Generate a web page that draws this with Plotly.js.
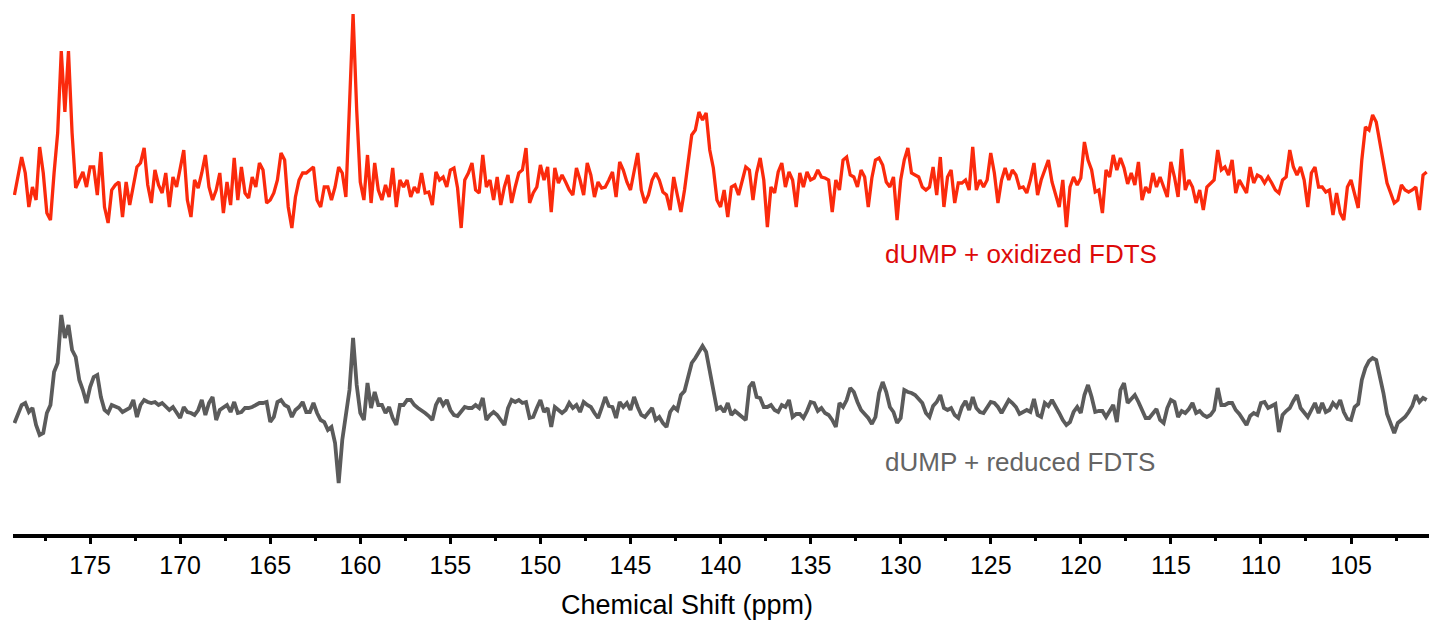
<!DOCTYPE html>
<html>
<head>
<meta charset="utf-8">
<script src="https://cdn.plot.ly/plotly-3.0.1.min.js"></script>
<style>html,body{margin:0;padding:0;background:#fff;}#chart{width:1434px;height:626px;}</style>
</head>
<body>
<div id="chart"></div>
<script>
// Chemical shift grid (ppm)
const ppm = [
179.2,179.0,178.8,178.6,178.4,178.2,178.0,177.8,177.6,177.4,177.2,177.0,176.8,176.6,176.4,176.2,176.0,175.8,175.6,175.4,175.2,175.0,
174.8,174.6,174.4,174.2,174.0,173.8,173.6,173.4,173.2,173.0,172.8,172.6,172.4,172.2,172.0,171.8,171.6,171.4,171.2,171.0,170.8,170.6,170.4,170.2,170.0,
169.8,169.6,169.4,169.2,169.0,168.8,168.6,168.4,168.2,168.0,167.8,167.6,167.4,167.2,167.0,166.8,166.6,166.4,166.2,166.0,165.8,165.6,165.4,165.2,165.0,
164.8,164.6,164.4,164.2,164.0,163.8,163.6,163.4,163.2,163.0,162.8,162.6,162.4,162.2,162.0,161.8,161.6,161.4,161.2,161.0,160.8,160.6,160.4,160.2,160.0,
159.8,159.6,159.4,159.2,159.0,158.8,158.6,158.4,158.2,158.0,157.8,157.6,157.4,157.2,157.0,156.8,156.6,156.4,156.2,156.0,155.8,155.6,155.4,155.2,155.0,
154.8,154.6,154.4,154.2,154.0,153.8,153.6,153.4,153.2,153.0,152.8,152.6,152.4,152.2,152.0,151.8,151.6,151.4,151.2,151.0,150.8,150.6,150.4,150.2,150.0,
149.8,149.6,149.4,149.2,149.0,148.8,148.6,148.4,148.2,148.0,147.8,147.6,147.4,147.2,147.0,146.8,146.6,146.4,146.2,146.0,145.8,145.6,145.4,145.2,145.0,
144.8,144.6,144.4,144.2,144.0,143.8,143.6,143.4,143.2,143.0,142.8,142.6,142.4,142.2,142.0,141.8,141.6,141.4,141.2,141.0,140.8,140.6,140.4,140.2,140.0,
139.8,139.6,139.4,139.2,139.0,138.8,138.6,138.4,138.2,138.0,137.8,137.6,137.4,137.2,137.0,136.8,136.6,136.4,136.2,136.0,135.8,135.6,135.4,135.2,135.0,
134.8,134.6,134.4,134.2,134.0,133.8,133.6,133.4,133.2,133.0,132.8,132.6,132.4,132.2,132.0,131.8,131.6,131.4,131.2,131.0,130.8,130.6,130.4,130.2,130.0,
129.8,129.6,129.4,129.2,129.0,128.8,128.6,128.4,128.2,128.0,127.8,127.6,127.4,127.2,127.0,126.8,126.6,126.4,126.2,126.0,125.8,125.6,125.4,125.2,125.0,
124.8,124.6,124.4,124.2,124.0,123.8,123.6,123.4,123.2,123.0,122.8,122.6,122.4,122.2,122.0,121.8,121.6,121.4,121.2,121.0,120.8,120.6,120.4,120.2,120.0,
119.8,119.6,119.4,119.2,119.0,118.8,118.6,118.4,118.2,118.0,117.8,117.6,117.4,117.2,117.0,116.8,116.6,116.4,116.2,116.0,115.8,115.6,115.4,115.2,115.0,
114.8,114.6,114.4,114.2,114.0,113.8,113.6,113.4,113.2,113.0,112.8,112.6,112.4,112.2,112.0,111.8,111.6,111.4,111.2,111.0,110.8,110.6,110.4,110.2,110.0,
109.8,109.6,109.4,109.2,109.0,108.8,108.6,108.4,108.2,108.0,107.8,107.6,107.4,107.2,107.0,106.8,106.6,106.4,106.2,106.0,105.8,105.6,105.4,105.2,105.0,
104.8,104.6,104.4,104.2,104.0,103.8,103.6,103.4,103.2,103.0,102.8,102.6,102.4,102.2,102.0,101.8,101.6,101.4,101.2,101.0,100.8
];

// dUMP + oxidized FDTS (intensity, arbitrary units, baseline 0)
const oxidized = [
-8,10,30,14,-20,0,-13,40,14,-26,-33,14,54,136,75,136,54,-1,7,15,0,20,
20,-8,35,-20,-36,-3,2,5,-30,5,-18,2,20,24,39,2,-16,17,2,-6,14,-20,10,0,19,
37,-13,-30,7,-1,14,32,0,-13,-3,14,-26,5,-18,29,-13,20,-6,-11,10,0,24,17,-16,-13,
-6,7,34,27,-20,-41,-10,7,14,14,17,20,-13,-20,0,0,-13,0,20,14,-10,87,173,77,5,
-13,32,-16,24,-3,-13,2,-10,19,-20,7,0,7,-10,0,-6,14,-6,-5,-18,15,7,10,0,17,
19,-1,-41,7,14,24,-3,-6,32,0,7,-13,10,-18,0,12,-16,0,14,17,39,-16,-6,0,22,
7,20,-25,19,4,12,5,-3,-8,19,7,-8,24,12,-10,5,-1,0,7,15,-10,25,17,5,-3,
17,34,-3,-16,-8,7,14,7,-5,-8,-23,10,-8,-25,-3,27,52,57,75,67,74,37,19,-13,-20,
-3,-30,0,2,-8,7,20,17,-13,14,29,7,-40,0,-6,15,24,0,15,7,-20,14,0,15,7,
9,17,10,9,7,-25,7,-3,27,30,12,10,0,17,10,-20,9,27,29,22,5,0,10,-33,7,
27,39,14,12,10,0,-3,0,20,-8,30,-20,10,17,-16,4,4,7,-3,40,-3,7,0,7,34,
14,-16,7,19,7,17,12,-1,0,-6,7,24,-8,7,17,27,5,-8,-20,7,-40,0,10,2,9,
45,27,17,-5,-3,-26,17,10,32,17,29,19,3,14,2,25,-13,0,-6,14,0,10,0,-10,25,
10,-10,38,-3,7,0,-16,-3,-23,0,4,7,37,17,20,12,27,-6,7,0,-6,20,4,12,10,
4,10,4,-3,-6,7,10,37,20,12,20,7,-20,14,20,0,0,-5,-3,-28,-6,-26,-33,0,7,
-8,-21,27,60,57,72,65,44,24,4,-6,-16,-13,2,-3,-5,-3,0,-23,12,15
];

// dUMP + reduced FDTS (intensity, arbitrary units, baseline 0)
const reduced = [
-13,-5,5,7,-2,2,-15,-25,-23,-3,5,38,47,95,72,85,60,53,30,20,7,23,
33,35,13,0,-3,5,3,2,-2,0,2,10,-7,5,10,8,7,8,5,7,3,0,3,-3,-8,
3,-2,-3,-5,0,10,-5,7,13,-10,0,2,5,-2,8,-3,-2,2,2,3,5,7,7,8,-12,
-7,8,10,5,3,-7,0,3,8,-2,-2,7,-3,-10,-12,-20,-17,-33,-73,-30,-3,20,72,25,-3,
-10,27,2,18,5,5,-3,3,-8,-15,5,5,10,10,5,2,0,-3,-6,-10,5,12,5,10,0,
-5,-6,-2,3,2,2,5,2,12,-10,-5,-2,-5,-10,-15,2,10,8,10,7,8,-8,-7,2,10,
-2,2,-17,3,0,-3,0,7,2,5,-2,8,5,3,-3,-8,2,13,4,3,-8,8,3,7,0,
13,3,-5,-7,-3,2,-10,-7,-13,-17,-2,3,0,15,19,33,47,52,58,64,58,40,23,1,3,
-2,7,-5,-1,-4,-8,-10,23,28,13,12,3,3,5,0,-2,5,3,10,-7,-4,-4,-8,-1,8,
7,-1,2,-3,-5,-10,-17,7,3,10,22,18,8,0,-4,-8,-14,-7,17,28,18,3,-2,-13,-8,
20,18,17,15,11,7,-3,-7,4,8,15,2,0,2,-5,-8,3,9,0,13,2,-2,-3,2,8,
7,3,-3,3,10,7,3,-4,-2,0,-2,11,-5,-7,7,4,10,4,-3,-10,-15,-12,-2,3,-3,
15,25,13,-2,-1,-1,-7,0,5,-12,20,27,7,11,15,8,1,-8,-8,-3,1,-10,-13,2,10,
8,-7,-1,-3,1,7,-3,-1,-5,-7,-5,0,22,5,5,7,7,0,-4,-9,-15,-6,-3,-5,7,
8,2,4,6,-22,-5,-1,2,9,15,2,-3,-7,0,7,-3,7,-2,0,7,3,10,-2,-9,-10,
3,6,30,42,49,52,50,35,17,-4,-13,-23,-13,-10,-7,-2,4,15,8,12,10
];

const seriesNames = ['dUMP + oxidized FDTS', 'dUMP + reduced FDTS'];
const xTitle = 'Chemical Shift (ppm)';
const tickValues = [175,170,165,160,155,150,145,140,135,130,125,120,115,110,105];

// stacking offsets (layout only)
const OFF_OX = -187, OFF_RED = -410;
const FONT = 'Liberation Sans, Arial, Helvetica, sans-serif';

const traces = [
  {x: ppm, y: oxidized.map(v => v + OFF_OX), type: 'scatter', mode: 'lines', name: seriesNames[0],
   line: {color: '#fb2a0c', width: 3.3}, hoverinfo: 'skip'},
  {x: ppm, y: reduced.map(v => v + OFF_RED), type: 'scatter', mode: 'lines', name: seriesNames[1],
   line: {color: '#5b5b5b', width: 3.8}, hoverinfo: 'skip'}
];

const layout = {
  width: 1434, height: 626,
  margin: {l: 13, r: 5, t: 0, b: 92},
  paper_bgcolor: '#ffffff', plot_bgcolor: '#ffffff',
  showlegend: false,
  font: {family: FONT, color: '#000'},
  xaxis: {
    range: [179.28, 100.67], autorange: false,
    tickmode: 'array', tickvals: tickValues, ticktext: tickValues.map(String),
    showline: true, linecolor: '#000', linewidth: 4,
    ticks: 'outside', ticklen: 6, tickwidth: 3, tickcolor: '#000',
    minor: {ticks: 'outside', ticklen: 3, tickwidth: 3, tickcolor: '#000', dtick: 2.5, tick0: 100},
    showgrid: false, zeroline: false,
    tickfont: {family: FONT, size: 25, color: '#000'}
  },
  yaxis: {range: [-534, 0], autorange: false, visible: false, showgrid: false, zeroline: false},
  annotations: [
    {x: 130.97, y: -254, xref: 'x', yref: 'y', xanchor: 'left', yanchor: 'middle', showarrow: false,
     text: seriesNames[0], font: {family: FONT, size: 26, color: '#dd0a0a'}},
    {x: 130.97, y: -462, xref: 'x', yref: 'y', xanchor: 'left', yanchor: 'middle', showarrow: false,
     text: seriesNames[1], font: {family: FONT, size: 26, color: '#646464'}},
    {x: 141.85, y: -0.133, xref: 'x', yref: 'paper', xanchor: 'center', yanchor: 'middle', showarrow: false,
     text: xTitle, font: {family: FONT, size: 27, color: '#000'}}
  ]
};

Plotly.newPlot('chart', traces, layout, {staticPlot: true, displayModeBar: false});
</script>
</body>
</html>
